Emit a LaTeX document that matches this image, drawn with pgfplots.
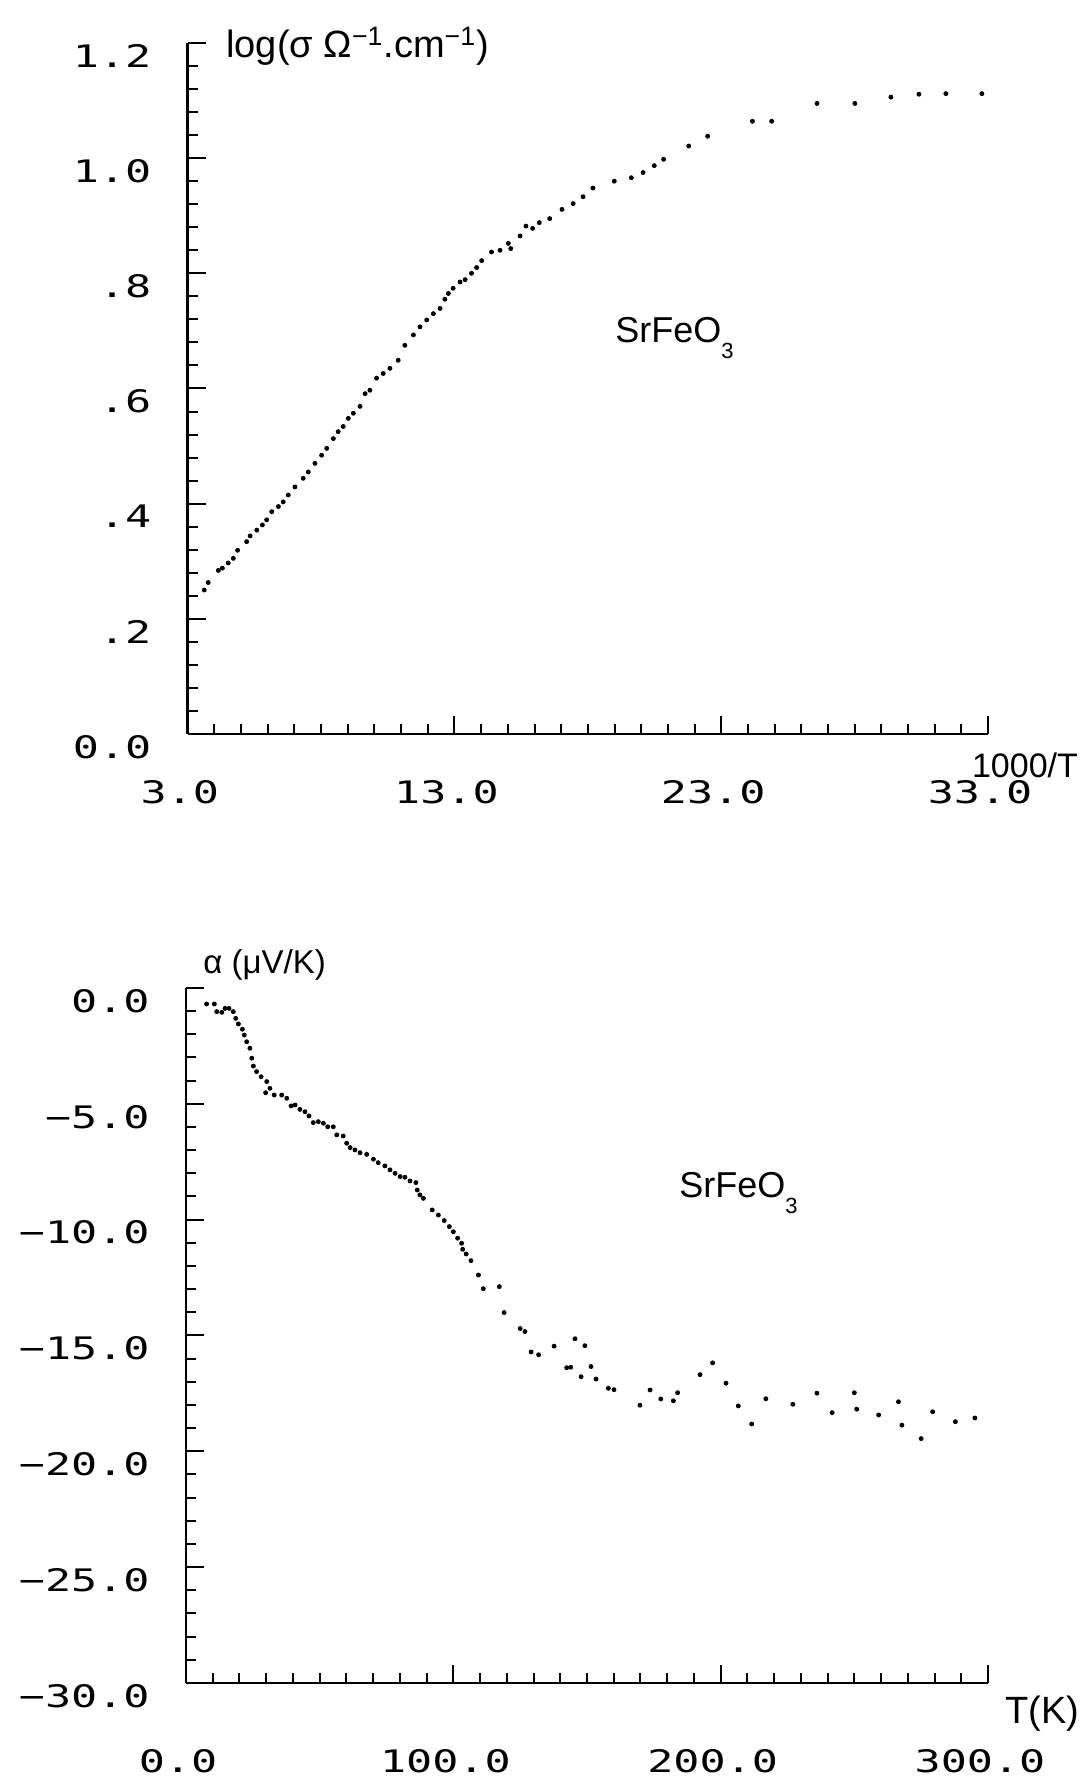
\documentclass[border=0pt]{standalone}
\usepackage{fontspec}
\setmainfont{Liberation Sans}
\newfontfamily\plotfont[FakeStretch=1.4]{DejaVu Sans Mono}
\usepackage{pgfplots}
\pgfplotsset{compat=1.18}
\pgfplotsset{refstyle/.style={
  scale only axis,
  axis x line*=bottom, axis y line*=left,
  axis line style={-, line width=1.3pt},
  tick align=inside,
  major tick length=9pt, minor tick length=5pt,
  every tick/.style={black, line width=1pt},
  ticklabel style={font=\plotfont\fontsize{15.5}{17}\selectfont, inner sep=0pt},
  yticklabel style={anchor=east, xshift=-18pt, yshift=-6.5pt},
  clip=false,
}}
\begin{document}
\begin{tikzpicture}
\path[use as bounding box] (0,0) rectangle (543.5pt,891pt);
% ---------------- top: conductivity ----------------
\begin{axis}[refstyle,
  at={(93.85pt,524pt)}, anchor=south west,
  width=400.15pt, height=345.5pt,
  xmin=3, xmax=33, ymin=0, ymax=1.2,
  xtick={3,13,23,33}, xticklabels={3.0,13.0,23.0,33.0},
  minor x tick num=9,
  ytick={0,0.2,0.4,0.6,0.8,1.0,1.2},
  yticklabels={0.0,.2,.4,.6,.8,1.0,1.2},
  minor y tick num=4,
  xticklabel style={anchor=center, xshift=-4pt, yshift=-29pt},
]
\addplot[only marks, mark=*, mark size=1pt, black] table {
x y
3.62 0.250
3.77 0.263
4.15 0.284
4.30 0.288
4.52 0.297
4.71 0.305
4.87 0.319
5.21 0.334
5.34 0.344
5.59 0.354
5.80 0.363
5.96 0.372
6.15 0.386
6.40 0.395
6.58 0.403
6.77 0.415
7.02 0.429
7.33 0.444
7.52 0.455
7.77 0.470
8.02 0.484
8.21 0.496
8.46 0.513
8.64 0.525
8.83 0.534
9.02 0.548
9.21 0.557
9.46 0.569
9.65 0.591
9.83 0.597
10.08 0.618
10.33 0.626
10.58 0.635
10.89 0.649
11.14 0.675
11.46 0.693
11.71 0.707
11.96 0.719
12.21 0.730
12.46 0.739
12.64 0.755
12.77 0.765
12.95 0.774
13.21 0.785
13.40 0.789
13.64 0.800
13.83 0.810
14.02 0.822
14.39 0.837
14.71 0.840
15.02 0.852
15.11 0.843
15.46 0.865
15.68 0.882
15.93 0.878
16.18 0.888
16.57 0.895
17.03 0.911
17.45 0.921
17.82 0.933
18.19 0.948
18.99 0.960
19.63 0.966
20.07 0.975
20.49 0.987
20.84 0.998
21.78 1.021
22.49 1.038
24.17 1.064
24.89 1.064
26.59 1.095
28.01 1.095
29.36 1.106
30.41 1.111
31.42 1.112
32.77 1.112
};
\end{axis}
% ---------------- bottom: thermopower ----------------
\begin{axis}[refstyle,
  at={(93pt,49.5pt)}, anchor=south west,
  width=401pt, height=347.5pt,
  xmin=0, xmax=300, ymin=-30, ymax=0,
  xtick={0,100,200,300}, xticklabels={0.0,100.0,200.0,300.0},
  minor x tick num=9,
  ytick={-30,-25,-20,-15,-10,-5,0},
  yticklabels={−30.0,−25.0,−20.0,−15.0,−10.0,−5.0,0.0},
  minor y tick num=4,
  xticklabel style={anchor=center, xshift=-4pt, yshift=-39pt},
]
\addplot[only marks, mark=*, mark size=1pt, black] table {
x y
7.7 -0.69
10.6 -0.69
11.5 -1.02
13.4 -1.05
14.6 -0.88
16.1 -0.88
17.7 -1.02
18.6 -1.31
19.6 -1.55
21.1 -1.78
21.8 -2.03
22.7 -2.32
23.9 -2.60
24.6 -3.03
25.2 -3.37
26.4 -3.61
28.1 -3.83
29.8 -4.52
30.2 -4.04
31.4 -4.33
33.0 -4.62
35.8 -4.62
37.7 -4.76
39.3 -5.09
40.8 -5.05
42.6 -5.24
44.5 -5.34
46.0 -5.52
47.6 -5.81
49.5 -5.77
51.4 -5.84
53.0 -5.99
55.1 -5.99
56.4 -6.34
58.8 -6.39
60.1 -6.70
61.4 -6.89
63.2 -6.99
65.1 -7.11
67.6 -7.18
70.1 -7.39
71.9 -7.54
74.4 -7.68
76.3 -7.85
78.2 -8.00
80.1 -8.14
81.9 -8.17
83.8 -8.33
86.0 -8.40
86.5 -8.72
87.5 -8.93
88.8 -9.08
92.1 -9.58
94.4 -9.80
96.6 -10.04
98.5 -10.30
100.0 -10.52
101.6 -10.80
103.1 -11.02
103.5 -11.28
104.8 -11.48
106.6 -11.77
109.4 -12.39
111.2 -12.98
117.2 -12.89
119.0 -14.01
125.0 -14.70
126.8 -14.83
129.1 -15.71
131.9 -15.83
137.7 -15.46
142.4 -16.39
143.9 -16.37
145.5 -15.14
147.8 -16.78
149.2 -15.44
151.5 -16.34
153.4 -16.88
158.0 -17.28
160.1 -17.34
169.8 -18.01
173.6 -17.35
177.6 -17.74
182.3 -17.82
183.9 -17.47
192.3 -16.69
197.0 -16.18
202.0 -17.06
206.6 -18.04
211.6 -18.82
216.9 -17.73
227.0 -17.97
236.0 -17.49
241.7 -18.33
250.0 -17.47
250.9 -18.18
259.1 -18.43
266.5 -17.86
267.8 -18.87
275.0 -19.45
279.3 -18.29
287.8 -18.72
295.1 -18.56
};
\end{axis}
% ---------------- texts ----------------
\node[anchor=base west, inner sep=0pt, font=\fontsize{19}{21}\selectfont] at (113pt,862pt) {log(σ Ω\textsuperscript{−1}.cm\textsuperscript{−1})};
\node[anchor=base west, inner sep=0pt, font=\fontsize{18}{20}\selectfont] at (307.5pt,719.5pt) {SrFeO\raisebox{-0.42em}{\fontsize{11}{11}\selectfont 3}};
\node[anchor=center, inner sep=0pt, font=\fontsize{17}{20}\selectfont] at (512.5pt,508.5pt) {1000/T};
\node[anchor=base west, inner sep=0pt, font=\fontsize{16.5}{20}\selectfont] at (101.5pt,404pt) {α (μV/K)};
\node[anchor=base west, inner sep=0pt, font=\fontsize{18}{20}\selectfont] at (339.5pt,292pt) {SrFeO\raisebox{-0.42em}{\fontsize{11}{11}\selectfont 3}};
\node[anchor=base west, inner sep=0pt, font=\fontsize{19}{22}\selectfont] at (502.5pt,29pt) {T(K)};
\end{tikzpicture}
\end{document}
